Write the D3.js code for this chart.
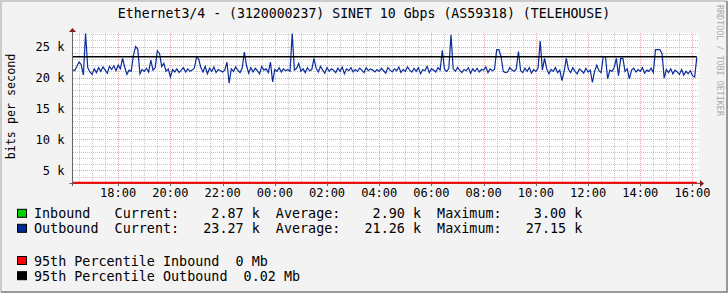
<!DOCTYPE html>
<html>
<head>
<meta charset="utf-8">
<script src="https://cdn.jsdelivr.net/npm/d3@7"></script>
<style>
  body { margin: 0; background: #f3f3f3; }
  svg text { font-family: "DejaVu Sans Mono", monospace; white-space: pre; }
</style>
</head>
<body>
<svg id="chart" width="728" height="293"></svg>
<script>
// ---- data (values in k bits/s) ----
var title = "Ethernet3/4 - (3120000237) SINET 10 Gbps (AS59318) (TELEHOUSE)";
var yLabel = "bits per second";
var credit = "RRDTOOL / TOBI OETIKER";
var startTime = new Date(2024, 0, 1, 16, 15);
var stepMinutes = 5;

// outbound, one row per hour (12 x 5 min)
var outbound = [
  21.3, 21.1, 21.8, 22.5, 22.1, 20.4, 27.15, 21.6, 20.9, 20.5, 21.4, 20.8,
  21.6, 21.0, 21.7, 21.2, 20.7, 21.8, 21.3, 21.9, 21.1, 22.0, 21.4, 23.1,
  21.7, 20.5, 21.2, 21.0, 23.6, 25.0, 24.6, 20.6, 21.3, 21.0, 21.5, 20.9,
  22.8, 21.2, 21.6, 24.3, 23.9, 21.8, 22.3, 21.0, 21.4, 20.1, 21.3, 20.9,
  21.4, 20.8, 21.2, 21.6, 20.9, 21.4, 21.0, 21.2, 21.5, 23.3, 23.0, 21.6,
  20.9, 21.8, 20.6, 21.5, 21.0, 21.7, 20.8, 21.3, 21.1, 20.9, 21.2, 22.5,
  19.1, 21.4, 21.0, 21.7, 21.2, 20.8, 21.5, 24.1, 21.9, 20.7, 21.6, 20.9,
  21.5, 21.1, 20.6, 21.8, 21.2, 21.4, 20.8, 22.5, 19.3, 21.3, 21.0, 21.6,
  20.9, 21.4, 21.1, 21.3, 21.0, 27.1, 21.2, 21.5, 22.3, 21.0, 21.4, 20.8,
  21.6, 21.1, 21.3, 23.1, 21.5, 20.9, 21.8, 21.2, 20.7, 21.6, 21.0, 21.4,
  21.2, 20.8, 21.5, 21.0, 21.7, 20.6, 21.4, 21.1, 21.6, 20.9, 21.3, 21.0,
  21.5, 21.2, 20.8, 21.6, 21.1, 21.4, 21.2, 20.9, 21.3, 21.0, 21.5, 21.1,
  20.7, 21.6, 21.2, 20.9, 21.4, 21.1, 21.7, 20.8, 21.3, 21.0, 21.7, 21.2,
  20.9, 21.5, 21.0, 21.6, 20.6, 21.3, 21.1, 21.8, 20.8, 21.4, 21.2, 20.9,
  21.6, 21.2, 24.4, 21.3, 21.0, 21.5, 26.9, 21.4, 21.0, 21.6, 21.2, 20.8,
  21.3, 21.1, 21.6, 20.7, 21.4, 21.0, 21.5, 20.9, 21.3, 21.2, 21.7, 20.8,
  21.4, 21.1, 21.3, 24.5, 24.5, 23.4, 21.0, 20.8, 20.9, 21.6, 21.2, 21.0,
  21.4, 24.2, 21.1, 20.8, 21.5, 21.0, 21.6, 20.7, 21.3, 21.0, 21.5, 25.9,
  21.2, 23.1, 21.4, 20.6, 21.3, 21.0, 21.6, 20.8, 21.2, 19.5, 21.0, 23.1,
  21.3, 20.8, 21.6, 21.0, 20.6, 21.4, 21.1, 20.7, 21.5, 20.9, 21.2, 19.2,
  21.0, 22.0, 21.1, 20.8, 23.4, 23.4, 19.8, 21.2, 21.0, 21.6, 23.1, 20.3,
  23.1, 23.1, 21.0, 21.4, 19.8, 21.2, 21.5, 20.9, 21.3, 21.0, 21.6, 20.7,
  21.2, 21.0, 21.5, 20.8, 24.5, 24.5, 24.5, 23.9, 19.9, 21.3, 20.8, 21.4,
  20.6, 21.2, 20.9, 20.5, 21.3, 20.4, 21.0, 20.6, 21.1, 20.3, 20.1, 23.27
];

var p95In = 3.0;
var p95Out = 23.35;
var yDomain = [2.95, 27.2];
var yMajorTicks = [5, 10, 15, 20, 25];

var legendStats = [
  { name: "Inbound", color: "#00cf00", current: "2.87 k", average: "2.90 k", maximum: "3.00 k" },
  { name: "Outbound", color: "#002a97", current: "23.27 k", average: "21.26 k", maximum: "27.15 k" }
];
var legendP95 = [
  { name: "95th Percentile Inbound", color: "#ff0000", value: "0 Mb" },
  { name: "95th Percentile Outbound", color: "#000000", value: "0.02 Mb" }
];

// ---- layout ----
var W = 728, H = 293;
var plot = { left: 72.5, right: 699, top: 33, bottom: 183 };

var svg = d3.select("#chart");

// frame
svg.append("rect").attr("x", 0).attr("y", 0).attr("width", W).attr("height", H).attr("fill", "#f3f3f3");
svg.append("path").attr("d", "M1," + (H - 1) + "V1H" + (W - 1)).attr("fill", "none").attr("stroke", "#cbcbcb").attr("stroke-width", 2);
svg.append("path").attr("d", "M1," + (H - 1) + "H" + (W - 1) + "V1").attr("fill", "none").attr("stroke", "#999").attr("stroke-width", 2);

var times = outbound.map(function(v, i) { return new Date(+startTime + i * stepMinutes * 60000); });
var endTime = new Date(+startTime + outbound.length * stepMinutes * 60000);

var x = d3.scaleTime().domain([startTime, endTime]).range([plot.left, plot.right]);
var y = d3.scaleLinear().domain(yDomain).range([plot.bottom, plot.top]);

// canvas
svg.append("rect")
  .attr("x", plot.left).attr("y", plot.top)
  .attr("width", plot.right - plot.left).attr("height", plot.bottom - plot.top)
  .attr("fill", "#fff");

var grid = svg.append("g").attr("shape-rendering", "crispEdges");

// minor grid
var yMinor = d3.range(Math.ceil(yDomain[0]), Math.floor(yDomain[1]) + 1);
grid.selectAll(".hmin").data(yMinor).enter().append("line")
  .attr("x1", plot.left).attr("x2", plot.right)
  .attr("y1", function(d) { return Math.round(y(d)) + 0.5; })
  .attr("y2", function(d) { return Math.round(y(d)) + 0.5; })
  .attr("stroke", "#c8c8c8").attr("stroke-dasharray", "1,1");

var xMinor = d3.timeMinute.every(30).range(startTime, endTime);
grid.selectAll(".vmin").data(xMinor).enter().append("line")
  .attr("y1", plot.top).attr("y2", plot.bottom)
  .attr("x1", function(d) { return Math.round(x(d)) + 0.5; })
  .attr("x2", function(d) { return Math.round(x(d)) + 0.5; })
  .attr("stroke", "#c8c8c8").attr("stroke-dasharray", "1,1");

// major grid
grid.selectAll(".hmaj").data(yMajorTicks).enter().append("line")
  .attr("x1", plot.left).attr("x2", plot.right)
  .attr("y1", function(d) { return Math.round(y(d)) + 0.5; })
  .attr("y2", function(d) { return Math.round(y(d)) + 0.5; })
  .attr("stroke", "#eda3a3").attr("stroke-dasharray", "1,1");

var xMajor = d3.timeHour.every(2).range(startTime, endTime);
grid.selectAll(".vmaj").data(xMajor).enter().append("line")
  .attr("y1", plot.top).attr("y2", plot.bottom)
  .attr("x1", function(d) { return Math.round(x(d)) + 0.5; })
  .attr("x2", function(d) { return Math.round(x(d)) + 0.5; })
  .attr("stroke", "#eda3a3").attr("stroke-dasharray", "1,1");

// outbound line
var line = d3.line()
  .x(function(d, i) { return x(times[i]); })
  .y(function(d) { return y(d); });

svg.append("path")
  .datum(outbound)
  .attr("d", line)
  .attr("fill", "none")
  .attr("stroke", "#0b2d9a")
  .attr("stroke-width", 1.2);

// 95th percentile outbound
svg.append("line")
  .attr("x1", plot.left).attr("x2", x(times[times.length - 1]))
  .attr("y1", y(p95Out)).attr("y2", y(p95Out))
  .attr("stroke", "#000").attr("stroke-width", 1.5);

// axes
var axisColor = "#666";
svg.append("line")
  .attr("x1", plot.left - 3).attr("x2", plot.right + 1)
  .attr("y1", plot.bottom + 0.5).attr("y2", plot.bottom + 0.5)
  .attr("stroke", axisColor);
svg.append("line")
  .attr("x1", plot.left).attr("x2", plot.left)
  .attr("y1", plot.bottom + 3).attr("y2", plot.top - 2)
  .attr("stroke", axisColor);

// 95th percentile inbound (sits on the axis)
svg.append("line")
  .attr("x1", plot.left + 0.5).attr("x2", x(times[times.length - 1]))
  .attr("y1", y(p95In)).attr("y2", y(p95In))
  .attr("stroke", "#ff0000").attr("stroke-width", 2);

// arrows
svg.append("path")
  .attr("d", "M" + (plot.left - 3.5) + "," + (plot.top - 1) + "L" + plot.left + "," + (plot.top - 5) + "L" + (plot.left + 3.5) + "," + (plot.top - 1) + "Z")
  .attr("fill", "#8b1a1a");
svg.append("path")
  .attr("d", "M" + (plot.right + 1) + "," + (plot.bottom - 3) + "L" + (plot.right + 5) + "," + (plot.bottom + 0.5) + "L" + (plot.right + 1) + "," + (plot.bottom + 4) + "Z")
  .attr("fill", "#8b1a1a");

// ticks
svg.selectAll(".xtick").data(xMajor).enter().append("line")
  .attr("x1", function(d) { return Math.round(x(d)) + 0.5; })
  .attr("x2", function(d) { return Math.round(x(d)) + 0.5; })
  .attr("y1", plot.bottom).attr("y2", plot.bottom + 3)
  .attr("stroke", axisColor);

// tick labels
svg.selectAll(".xlab").data(xMajor).enter().append("text")
  .attr("x", function(d) { return x(d); })
  .attr("y", 197)
  .attr("text-anchor", "middle")
  .attr("font-size", "12px")
  .attr("fill", "#000")
  .text(d3.timeFormat("%H:%M"));

svg.selectAll(".ylab").data(yMajorTicks).enter().append("text")
  .attr("x", 64.5)
  .attr("y", function(d) { return y(d) + 4.5; })
  .attr("text-anchor", "end")
  .attr("font-size", "12px")
  .attr("fill", "#000")
  .text(function(d) { return d + " k"; });

// title, axis label, credit
svg.append("text")
  .attr("x", 364).attr("y", 18.3)
  .attr("text-anchor", "middle")
  .attr("font-size", "13.2px")
  .text(title);

svg.append("text")
  .attr("transform", "translate(15,106.5) rotate(-90)")
  .attr("text-anchor", "middle")
  .attr("font-size", "11.7px")
  .text(yLabel);

svg.append("text")
  .attr("transform", "translate(716.5,5) rotate(90)")
  .attr("font-size", "8.4px")
  .attr("fill", "#aaa")
  .text(credit);

// legend
var legendX = 34;
var statRows = [218.3, 233.3];
var p95Rows = [265.5, 280.7];

function pad(s, n, left) {
  while (s.length < n) s = left ? " " + s : s + " ";
  return s;
}

legendStats.forEach(function(d, i) {
  svg.append("rect")
    .attr("x", 17.5).attr("y", statRows[i] - 9)
    .attr("width", 9).attr("height", 8)
    .attr("fill", d.color).attr("stroke", "#000").attr("stroke-width", 1);
  svg.append("text")
    .attr("x", legendX).attr("y", statRows[i])
    .attr("xml:space", "preserve")
    .attr("font-size", "13.4px")
    .text(pad(d.name, 10) + "Current:" + pad(d.current, 10, true) +
          "  Average:" + pad(d.average, 10, true) +
          "  Maximum:" + pad(d.maximum, 10, true));
});

legendP95.forEach(function(d, i) {
  svg.append("rect")
    .attr("x", 17.5).attr("y", p95Rows[i] - 9)
    .attr("width", 9).attr("height", 8)
    .attr("fill", d.color).attr("stroke", "#000").attr("stroke-width", 1);
  svg.append("text")
    .attr("x", legendX).attr("y", p95Rows[i])
    .attr("xml:space", "preserve")
    .attr("font-size", "13.4px")
    .text(d.name + "  " + d.value);
});
</script>
</body>
</html>
